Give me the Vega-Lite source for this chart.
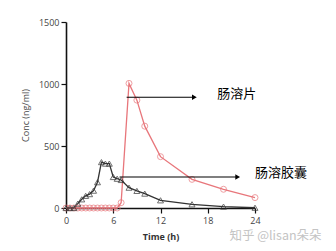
{
  "$schema": "https://vega.github.io/schema/vega-lite/v6.json",
  "width": 189,
  "height": 186,
  "autosize": {"type": "none"},
  "padding": {"left": 66, "top": 22, "right": 81, "bottom": 43},
  "background": "white",
  "config": {"view": {"stroke": null}},
  "datasets": {
    "pk": [
      {"t": 0, "conc": 0, "form": "肠溶片"},
      {"t": 0.5, "conc": 0, "form": "肠溶片"},
      {"t": 1, "conc": 0, "form": "肠溶片"},
      {"t": 1.5, "conc": 0, "form": "肠溶片"},
      {"t": 2, "conc": 0, "form": "肠溶片"},
      {"t": 2.5, "conc": 0, "form": "肠溶片"},
      {"t": 3, "conc": 0, "form": "肠溶片"},
      {"t": 3.5, "conc": 0, "form": "肠溶片"},
      {"t": 4, "conc": 0, "form": "肠溶片"},
      {"t": 4.5, "conc": 0, "form": "肠溶片"},
      {"t": 5, "conc": 0, "form": "肠溶片"},
      {"t": 5.5, "conc": 0, "form": "肠溶片"},
      {"t": 6, "conc": 0, "form": "肠溶片"},
      {"t": 6.5, "conc": 0, "form": "肠溶片"},
      {"t": 7, "conc": 43, "form": "肠溶片"},
      {"t": 8, "conc": 1005, "form": "肠溶片"},
      {"t": 9, "conc": 870, "form": "肠溶片"},
      {"t": 10, "conc": 660, "form": "肠溶片"},
      {"t": 12, "conc": 414, "form": "肠溶片"},
      {"t": 16, "conc": 231, "form": "肠溶片"},
      {"t": 20, "conc": 151, "form": "肠溶片"},
      {"t": 24, "conc": 84, "form": "肠溶片"},
      {"t": 0, "conc": 0, "form": "肠溶胶囊"},
      {"t": 0.5, "conc": 0, "form": "肠溶胶囊"},
      {"t": 1, "conc": 0, "form": "肠溶胶囊"},
      {"t": 1.5, "conc": 35, "form": "肠溶胶囊"},
      {"t": 2, "conc": 70, "form": "肠溶胶囊"},
      {"t": 2.5, "conc": 98, "form": "肠溶胶囊"},
      {"t": 3, "conc": 112, "form": "肠溶胶囊"},
      {"t": 3.5, "conc": 140, "form": "肠溶胶囊"},
      {"t": 4, "conc": 208, "form": "肠溶胶囊"},
      {"t": 4.5, "conc": 370, "form": "肠溶胶囊"},
      {"t": 5, "conc": 358, "form": "肠溶胶囊"},
      {"t": 5.5, "conc": 358, "form": "肠溶胶囊"},
      {"t": 6, "conc": 250, "form": "肠溶胶囊"},
      {"t": 6.5, "conc": 236, "form": "肠溶胶囊"},
      {"t": 7, "conc": 226, "form": "肠溶胶囊"},
      {"t": 8, "conc": 164, "form": "肠溶胶囊"},
      {"t": 9, "conc": 138, "form": "肠溶胶囊"},
      {"t": 10, "conc": 116, "form": "肠溶胶囊"},
      {"t": 12, "conc": 62, "form": "肠溶胶囊"},
      {"t": 16, "conc": 30, "form": "肠溶胶囊"},
      {"t": 20, "conc": 11, "form": "肠溶胶囊"},
      {"t": 24, "conc": 2, "form": "肠溶胶囊"}
    ],
    "arrows": [
      {"x1": 7.7, "x2": 16.3, "y": 893, "label": "肠溶片", "lx": 19.2, "ly": 917},
      {"x1": 6.8, "x2": 21.8, "y": 250, "label": "肠溶胶囊", "lx": 24.0, "ly": 280}
    ],
    "mark": [
      {"x": 26.6, "y": -222, "text": "知乎 @lisan朵朵"}
    ]
  },
  "layer": [
    {
      "data": {"name": "pk"},
      "mark": {"type": "line", "strokeWidth": 1.3, "clip": false},
      "encoding": {
        "x": {
          "field": "t", "type": "quantitative",
          "scale": {"domain": [0, 24], "nice": false, "zero": false},
          "axis": {
            "title": "Time (h)",
            "titleFont": "Open Sans", "titleFontSize": 9, "titleFontWeight": "bold", "titleColor": "#333",
            "titlePadding": 7,
            "values": [0, 3, 6, 9, 12, 15, 18, 21, 24],
            "labelExpr": "datum.value % 6 === 0 ? datum.label : ''",
            "labelFont": "Open Sans", "labelFontSize": 9, "labelColor": "#444", "labelPadding": 3,
            "labelFlush": false,
            "domainColor": "#111", "domainWidth": 1.6,
            "tickColor": "#111", "tickWidth": 1.2,
            "tickSize": {"condition": {"test": "datum.value % 6 === 0", "value": 5}, "value": 3},
            "grid": false
          }
        },
        "y": {
          "field": "conc", "type": "quantitative",
          "scale": {"domain": [0, 1500], "nice": false},
          "axis": {
            "title": "Conc (ng/ml)",
            "titleFont": "Open Sans", "titleFontSize": 9, "titleFontWeight": "normal", "titleColor": "#4a4a4a",
            "titlePadding": 8,
            "values": [0, 250, 500, 750, 1000, 1250, 1500],
            "labelExpr": "datum.value % 500 === 0 ? datum.label : ''",
            "labelFont": "Open Sans", "labelFontSize": 9, "labelColor": "#444", "labelPadding": 2,
            "labelFlush": false,
            "format": "d",
            "domainColor": "#111", "domainWidth": 1.6,
            "tickColor": "#111", "tickWidth": 1.2,
            "tickSize": {"condition": {"test": "datum.value % 500 === 0", "value": 5}, "value": 3},
            "grid": false
          }
        },
        "color": {
          "field": "form", "type": "nominal",
          "scale": {"domain": ["肠溶片", "肠溶胶囊"], "range": ["#e8767b", "#333333"]},
          "legend": null
        },
        "order": {"field": "t"}
      }
    },
    {
      "data": {"name": "pk"},
      "mark": {"type": "point", "filled": false, "strokeWidth": 1, "size": 36, "clip": false},
      "encoding": {
        "x": {"field": "t", "type": "quantitative"},
        "y": {"field": "conc", "type": "quantitative"},
        "color": {"field": "form", "type": "nominal", "legend": null},
        "shape": {
          "field": "form", "type": "nominal",
          "scale": {"domain": ["肠溶片", "肠溶胶囊"], "range": ["circle", "triangle-up"]},
          "legend": null
        }
      }
    },
    {
      "data": {"name": "arrows"},
      "mark": {"type": "rule", "color": "#000", "strokeWidth": 1.2, "clip": false},
      "encoding": {
        "x": {"field": "x1", "type": "quantitative"},
        "x2": {"field": "x2"},
        "y": {"field": "y", "type": "quantitative"}
      }
    },
    {
      "data": {"name": "arrows"},
      "mark": {"type": "point", "shape": "triangle-right", "filled": true, "color": "#000", "size": 30, "opacity": 1, "clip": false},
      "encoding": {
        "x": {"field": "x2", "type": "quantitative"},
        "y": {"field": "y", "type": "quantitative"}
      }
    },
    {
      "data": {"name": "arrows"},
      "mark": {"type": "text", "align": "left", "baseline": "middle", "font": "Noto Sans CJK SC", "fontSize": 13, "color": "#000", "clip": false},
      "encoding": {
        "x": {"field": "lx", "type": "quantitative"},
        "y": {"field": "ly", "type": "quantitative"},
        "text": {"field": "label"}
      }
    },
    {
      "data": {"name": "mark"},
      "mark": {"type": "text", "align": "center", "baseline": "middle", "font": "Noto Sans CJK SC", "fontSize": 12.5, "color": "#c4c4c4", "clip": false},
      "encoding": {
        "x": {"field": "x", "type": "quantitative"},
        "y": {"field": "y", "type": "quantitative"},
        "text": {"field": "text"}
      }
    }
  ]
}
